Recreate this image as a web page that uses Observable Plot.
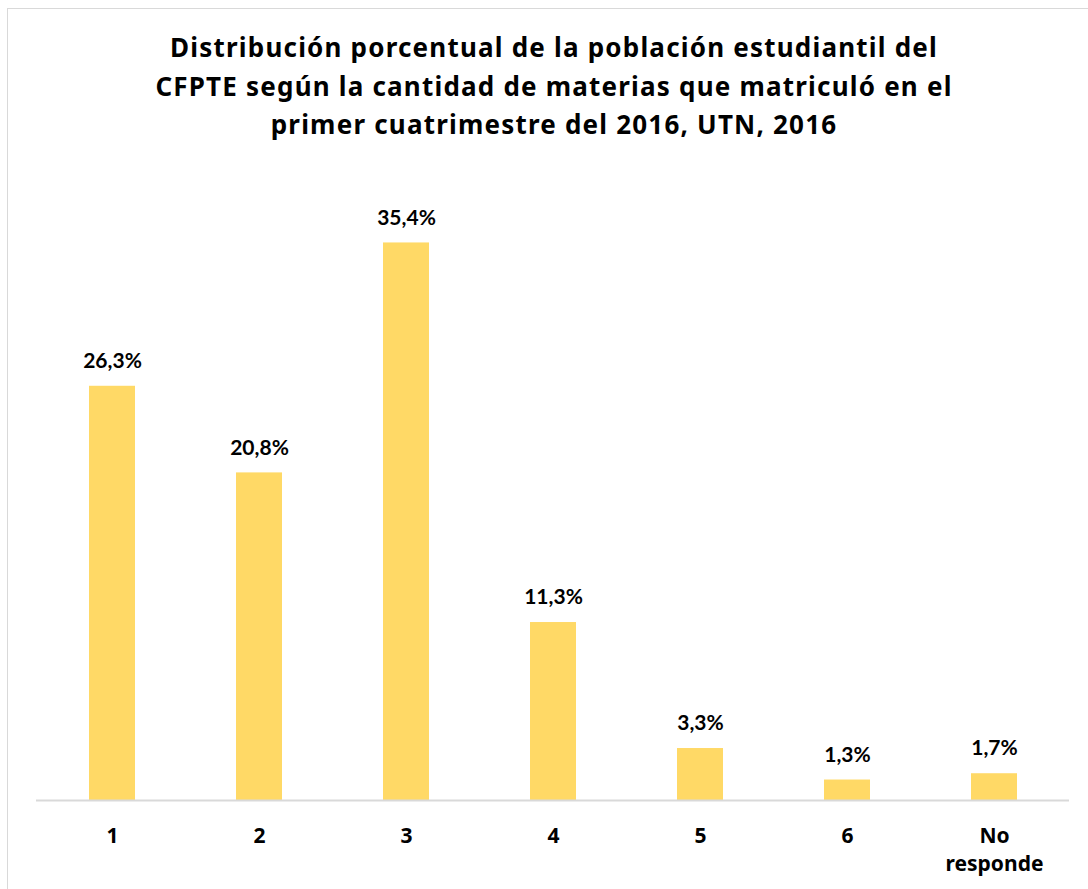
<!DOCTYPE html>
<html>
<head>
<meta charset="utf-8">
<script src="https://cdn.jsdelivr.net/npm/d3@7"></script>
<script src="https://cdn.jsdelivr.net/npm/@observablehq/plot@0.6"></script>
<style>
  body { margin: 0; background: #fff; }
  #wrap { position: relative; width: 1088px; height: 889px; overflow: hidden; }
  #frame { position: absolute; left: 7px; top: 8px; width: 1100px; height: 900px; border: 1px solid #d9d9d9; box-sizing: border-box; }
  #title { position: absolute; left: 0; width: 1108px; top: 28px; text-align: center;
           font-family: "Noto Sans", sans-serif; font-weight: bold; font-size: 26px; letter-spacing: 1.2px; line-height: 38.5px; color: #000; }
  #chart { position: absolute; left: 0; top: 0; }
</style>
</head>
<body>
<div id="wrap">
  <div id="frame"></div>
  <div id="chart"></div>
  <div id="title">Distribución porcentual de la población estudiantil del<br>CFPTE según la cantidad de materias que matriculó en el<br>primer cuatrimestre del 2016, UTN, 2016</div>
</div>
<script>
const categories = ["1", "2", "3", "4", "5", "6", "No responde"];
const values = [26.3, 20.8, 35.4, 11.3, 3.3, 1.3, 1.7];
const labels = ["26,3%", "20,8%", "35,4%", "11,3%", "3,3%", "1,3%", "1,7%"];

const data = categories.map((c, i) => ({cat: c, value: values[i], label: labels[i]}));

const chart = Plot.plot({
  width: 1088,
  height: 889,
  marginLeft: 36,
  marginRight: 19,
  marginTop: 170,
  marginBottom: 89,
  style: {background: "transparent"},
  x: {domain: categories, paddingInner: 0.69, paddingOuter: 0.345, label: null},
  y: {domain: [0, 40], axis: null},
  marks: [
    Plot.barY(data, {x: "cat", y: "value", fill: "#FFD966"}),
    Plot.ruleY([0], {stroke: "#d9d9d9", strokeWidth: 2}),
    Plot.text(data, {x: "cat", y: "value", text: "label", dy: -25, fontSize: 21, fontWeight: "bold",
      fontFamily: "Lato, sans-serif", fill: "#000"}),
    Plot.axisX({tickSize: 0, tickPadding: 23, fontSize: 21, fontWeight: "bold",
      fontFamily: "'Noto Sans', sans-serif", fill: "#000", lineHeight: 1.33,
      tickFormat: d => d === "No responde" ? "No\nresponde" : d, label: null})
  ]
});
document.getElementById("chart").appendChild(chart);
</script>
</body>
</html>
